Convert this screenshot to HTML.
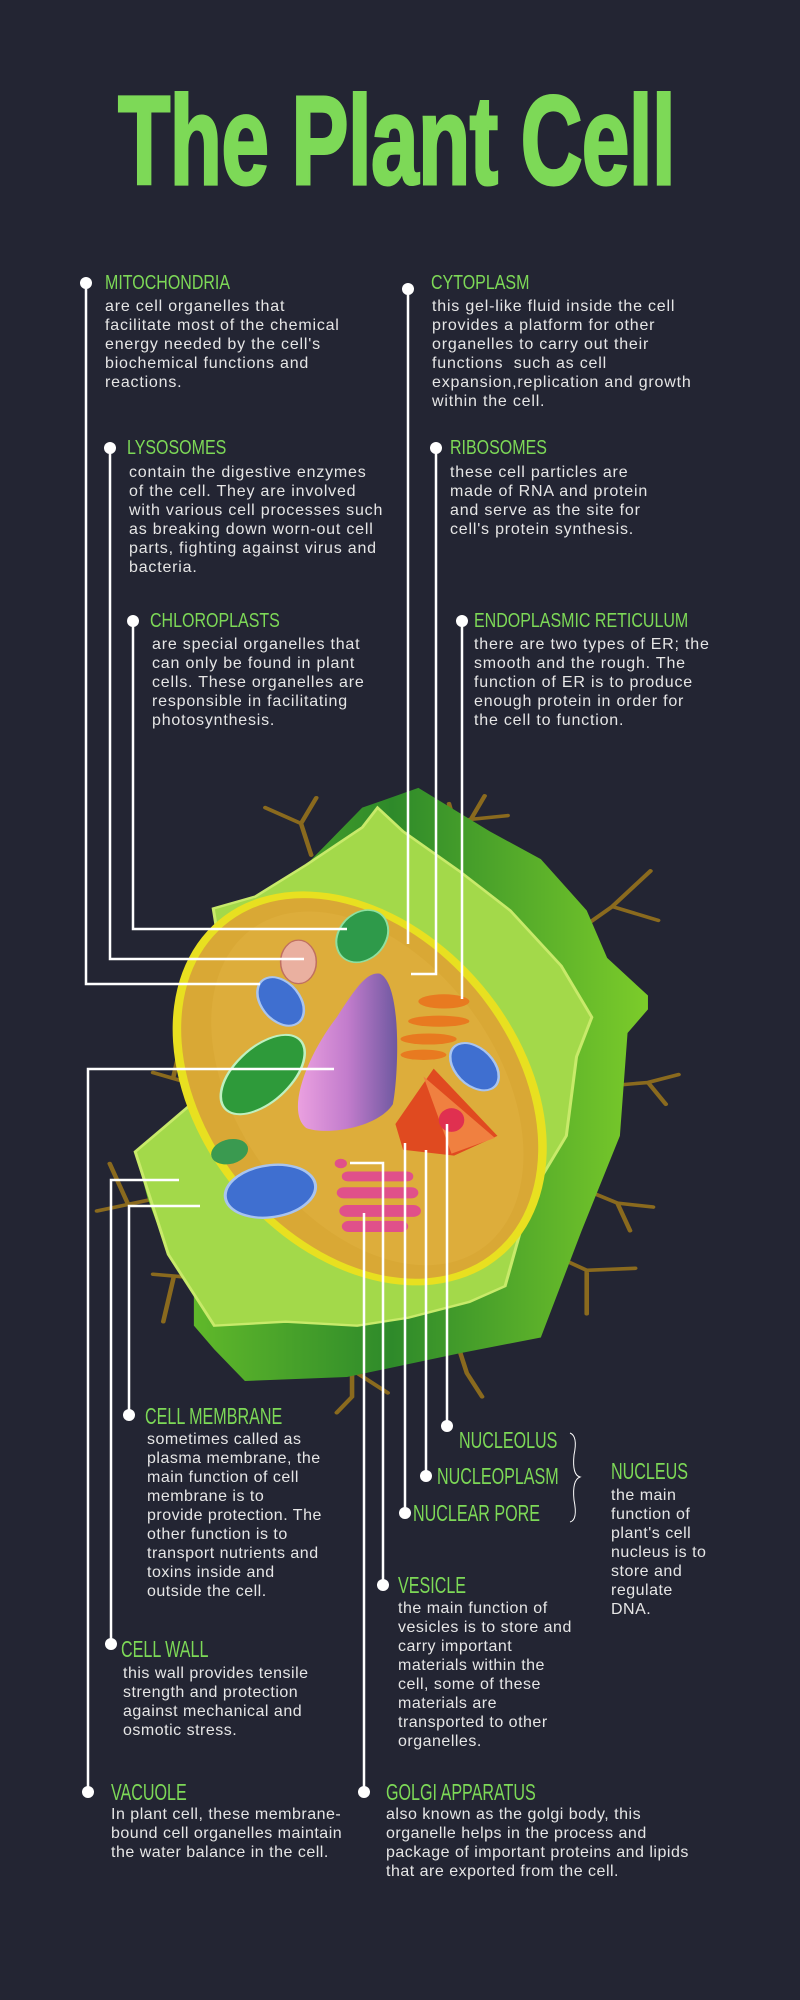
<!DOCTYPE html>
<html><head><meta charset="utf-8"><style>
html,body{margin:0;padding:0;background:#232533;}
#p{position:relative;width:800px;height:2000px;background:#232533;overflow:hidden;font-family:"Liberation Sans",sans-serif;}
.t{position:absolute;white-space:nowrap;}
.title{left:118px;top:76px;font-size:126px;font-weight:bold;color:#7dd957;line-height:130px;transform:scaleX(.68);transform-origin:left top;letter-spacing:-1px;-webkit-text-stroke:3px #7dd957;}
.h{color:#7dd957;font-size:20px;line-height:20px;transform:scaleX(.8);transform-origin:left center;}
.b{color:#e6e6e6;font-size:16px;line-height:19px;letter-spacing:.8px;}
.H{color:#7dd957;font-size:23px;line-height:23px;transform:scaleX(.7);transform-origin:left center;}
.B{color:#e6e6e6;font-size:16px;line-height:19px;letter-spacing:.5px;}
svg{position:absolute;left:0;top:0;}
</style></head><body><div id="p">
<svg width="800" height="2000" viewBox="0 0 800 2000">
<defs>
<linearGradient id="wall" x1="0" y1="0" x2="1" y2="0"><stop offset="0" stop-color="#6fc62a"/><stop offset=".5" stop-color="#2e8a2a"/><stop offset="1" stop-color="#7ccc2a"/></linearGradient>
<linearGradient id="vac" x1="0" y1="0" x2="1" y2="0"><stop offset="0" stop-color="#eaa0e0"/><stop offset=".5" stop-color="#c27ccc"/><stop offset="1" stop-color="#6e58a0"/></linearGradient>
</defs>
<g transform="translate(0,780) scale(0.5102,0.3954)">
<g stroke="#8a6a1e" stroke-width="9" fill="none" stroke-linecap="round">
<path d="M610,190 L590,110 L520,70 M590,110 L620,45"/>
<path d="M380,770 L300,740 M340,750 L360,640"/>
<path d="M300,1060 L190,1090 M250,1070 L215,970"/>
<path d="M390,1260 L300,1250 M340,1260 L320,1370"/>
<path d="M1090,420 L1200,320 L1290,355 M1200,320 L1275,230"/>
<path d="M1180,775 L1270,765 L1330,745 M1270,765 L1305,820"/>
<path d="M1135,1030 L1210,1070 L1280,1080 M1210,1070 L1235,1140"/>
<path d="M1065,1190 L1150,1240 L1245,1235 M1150,1240 L1150,1350"/>
<path d="M885,1380 L915,1500 L945,1560"/>
<path d="M690,1460 L690,1560 L660,1600 M700,1500 L760,1550"/>
<path d="M880,60 L900,150 L950,40 M920,100 L995,90"/>
</g>
<path d="M710,70 L820,20 L960,130 L1060,200 L1150,330 L1190,450 L1270,545 L1270,580 L1230,640 L1215,900 L1140,1140 L1060,1410 L900,1450 L680,1510 L480,1520 L420,1440 L380,1380 L380,1300 L330,1200 L290,1060 L265,940 L330,870 L400,790 L470,700 L440,550 L430,420 L418,325 L500,295 L600,215 Z" fill="url(#wall)"/>
<path d="M418,325 L500,295 L600,215 L710,120 L740,70 L790,130 L900,230 L1000,330 L1100,470 L1160,600 L1130,700 L1110,900 L1040,1050 L990,1280 L920,1320 L800,1360 L700,1380 L560,1370 L420,1380 L380,1300 L330,1200 L300,1080 L265,940 L320,880 L420,770 L470,700 L440,550 L430,420 Z" fill="#a3d94a" stroke="#c8ea6a" stroke-width="6"/>
<ellipse cx="705" cy="780" rx="335" ry="520" transform="rotate(-22 705 780)" fill="#e8e020"/>
<ellipse cx="705" cy="780" rx="318" ry="503" transform="rotate(-22 705 780)" fill="#d9a835"/>
<ellipse cx="720" cy="780" rx="270" ry="470" transform="rotate(-22 720 780)" fill="#e0b040" opacity=".6"/>
<ellipse cx="710" cy="395" rx="48" ry="68" transform="rotate(20 710 395)" fill="#2e9a4a" stroke="#8ee0a0" stroke-width="4"/>
<ellipse cx="585" cy="460" rx="35" ry="55" fill="#eab0a0" stroke="#c07060" stroke-width="3"/>
<ellipse cx="550" cy="560" rx="40" ry="65" transform="rotate(-25 550 560)" fill="#3f6fd0" stroke="#a8c4f0" stroke-width="5"/>
<ellipse cx="515" cy="745" rx="60" ry="115" transform="rotate(35 515 745)" fill="#2e9a3a" stroke="#bff0c0" stroke-width="5"/>
<path d="M745,490 C790,520 780,760 770,820 C740,880 640,900 600,880 C560,840 600,700 660,600 C700,520 720,485 745,490 Z" fill="url(#vac)"/>
<g fill="#e87a20">
<ellipse cx="870" cy="560" rx="50" ry="18"/><ellipse cx="860" cy="610" rx="60" ry="14"/><ellipse cx="840" cy="655" rx="55" ry="14"/><ellipse cx="830" cy="695" rx="45" ry="13"/>
</g>
<ellipse cx="930" cy="725" rx="40" ry="65" transform="rotate(-30 930 725)" fill="#3f6fd0" stroke="#a8c4f0" stroke-width="5"/>
<path d="M775,870 L850,730 L975,900 L890,950 L790,935 Z" fill="#e04a20"/>
<path d="M830,750 L970,905 L885,945 Z" fill="#f08040"/>
<ellipse cx="885" cy="860" rx="25" ry="30" fill="#e03050"/>
<ellipse cx="450" cy="940" rx="38" ry="30" transform="rotate(-30 450 940)" fill="#3a9a50"/>
<ellipse cx="530" cy="1040" rx="90" ry="65" transform="rotate(-15 530 1040)" fill="#3f6fd0" stroke="#a8c4f0" stroke-width="6"/>
<g fill="#e0508a"><rect x="670" y="990" width="140" height="25" rx="12"/><rect x="660" y="1030" width="160" height="28" rx="14"/><rect x="665" y="1075" width="160" height="30" rx="15"/><rect x="670" y="1115" width="130" height="28" rx="14"/></g>
<circle cx="668" cy="970" r="12" fill="#e0508a"/>
</g>
<g stroke="#fff" stroke-width="2.5" fill="none">
<path d="M86,283 V984 H260"/>
<path d="M110,448 V959 H304"/>
<path d="M133,621 V929 H347"/>
<path d="M408,289 V944"/>
<path d="M436,448 V974 H411"/>
<path d="M462,621 V999"/>
<path d="M88,1792 V1069 H334"/>
<path d="M111,1644 V1180 H179"/>
<path d="M129,1415 V1206 H200"/>
<path d="M364,1792 V1213"/>
<path d="M383,1585 V1163 H350"/>
<path d="M405,1513 V1143"/>
<path d="M426,1476 V1150"/>
<path d="M447,1426 V1124"/>
<path d="M570,1433 Q578,1436 574,1455 Q572,1475 580,1477 Q572,1480 574,1500 Q578,1520 570,1522" stroke-width="1"/>
</g>
<g fill="#fff">
<circle cx="86" cy="283" r="6"/><circle cx="408" cy="289" r="6"/><circle cx="110" cy="448" r="6"/><circle cx="436" cy="448" r="6"/><circle cx="133" cy="621" r="6"/><circle cx="462" cy="621" r="6"/>
<circle cx="129" cy="1415" r="6"/><circle cx="111" cy="1644" r="6"/><circle cx="88" cy="1792" r="6"/><circle cx="364" cy="1792" r="6"/><circle cx="383" cy="1585" r="6"/><circle cx="447" cy="1426" r="6"/><circle cx="426" cy="1476" r="6"/><circle cx="405" cy="1513" r="6"/>
</g>
</svg>

<div class="t title">The Plant Cell</div>

<div class="t h" style="left:105px;top:273px">MITOCHONDRIA</div>
<div class="t b" style="left:105px;top:297px">are cell organelles that<br>facilitate most of the chemical<br>energy needed by the cell's<br>biochemical functions and<br>reactions.</div>

<div class="t h" style="left:431px;top:273px">CYTOPLASM</div>
<div class="t b" style="left:432px;top:297px">this gel-like fluid inside the cell<br>provides a platform for other<br>organelles to carry out their<br>functions &nbsp;such as cell<br>expansion,replication and growth<br>within the cell.</div>

<div class="t h" style="left:127px;top:438px">LYSOSOMES</div>
<div class="t b" style="left:129px;top:463px">contain the digestive enzymes<br>of the cell. They are involved<br>with various cell processes such<br>as breaking down worn-out cell<br>parts, fighting against virus and<br>bacteria.</div>

<div class="t h" style="left:450px;top:438px">RIBOSOMES</div>
<div class="t b" style="left:450px;top:463px">these cell particles are<br>made of RNA and protein<br>and serve as the site for<br>cell's protein synthesis.</div>

<div class="t h" style="left:150px;top:611px">CHLOROPLASTS</div>
<div class="t b" style="left:152px;top:635px">are special organelles that<br>can only be found in plant<br>cells. These organelles are<br>responsible in facilitating<br>photosynthesis.</div>

<div class="t h" style="left:474px;top:611px">ENDOPLASMIC RETICULUM</div>
<div class="t b" style="left:474px;top:635px">there are two types of ER; the<br>smooth and the rough. The<br>function of ER is to produce<br>enough protein in order for<br>the cell to function.</div>

<div class="t H" style="left:145px;top:1405px">CELL MEMBRANE</div>
<div class="t B" style="left:147px;top:1430px">sometimes called as<br>plasma membrane, the<br>main function of cell<br>membrane is to<br>provide protection. The<br>other function is to<br>transport nutrients and<br>toxins inside and<br>outside the cell.</div>

<div class="t H" style="left:121px;top:1638px">CELL WALL</div>
<div class="t B" style="left:123px;top:1664px">this wall provides tensile<br>strength and protection<br>against mechanical and<br>osmotic stress.</div>

<div class="t H" style="left:111px;top:1781px">VACUOLE</div>
<div class="t B" style="left:111px;top:1805px">In plant cell, these membrane-<br>bound cell organelles maintain<br>the water balance in the cell.</div>

<div class="t H" style="left:386px;top:1781px">GOLGI APPARATUS</div>
<div class="t B" style="left:386px;top:1805px">also known as the golgi body, this<br>organelle helps in the process and<br>package of important proteins and lipids<br>that are exported from the cell.</div>

<div class="t H" style="left:398px;top:1574px">VESICLE</div>
<div class="t B" style="left:398px;top:1599px">the main function of<br>vesicles is to store and<br>carry important<br>materials within the<br>cell, some of these<br>materials are<br>transported to other<br>organelles.</div>

<div class="t H" style="left:459px;top:1429px">NUCLEOLUS</div>
<div class="t H" style="left:437px;top:1465px">NUCLEOPLASM</div>
<div class="t H" style="left:413px;top:1502px">NUCLEAR PORE</div>

<div class="t H" style="left:611px;top:1460px">NUCLEUS</div>
<div class="t B" style="left:611px;top:1486px">the main<br>function of<br>plant's cell<br>nucleus is to<br>store and<br>regulate<br>DNA.</div>
</div></body></html>
